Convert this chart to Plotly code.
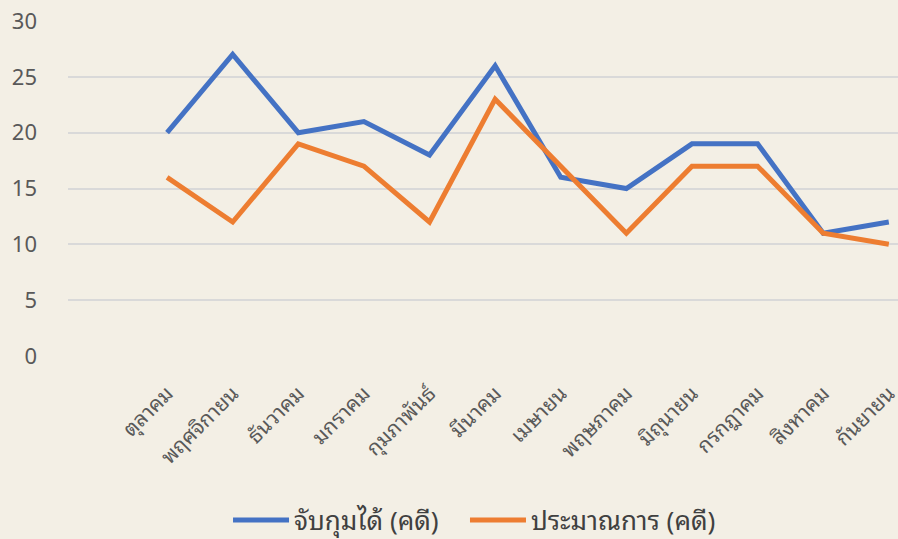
import plotly.graph_objects as go

months = ["ตุลาคม", "พฤศจิกายน", "ธันวาคม", "มกราคม", "กุมภาพันธ์", "มีนาคม",
          "เมษายน", "พฤษภาคม", "มิถุนายน", "กรกฎาคม", "สิงหาคม", "กันยายน"]
arrested = [20, 27, 20, 21, 18, 26, 16, 15, 19, 19, 11, 12]
estimated = [16, 12, 19, 17, 12, 23, 17, 11, 17, 17, 11, 10]
name_arrested = "จับกุมได้ (คดี)"
name_estimated = "ประมาณการ (คดี)"
y_ticks = [0, 5, 10, 15, 20, 25, 30]

font_family = "Noto Sans Thai Looped, Noto Sans, Open Sans, sans-serif"
bg = "#F3EFE5"

fig = go.Figure()
fig.add_trace(go.Scatter(x=months, y=arrested, mode="lines", name=name_arrested,
                         line=dict(color="#4472C4", width=5), legend="legend"))
fig.add_trace(go.Scatter(x=months, y=estimated, mode="lines", name=name_estimated,
                         line=dict(color="#ED7D31", width=5), legend="legend2"))

legend_common = dict(orientation="h", xanchor="left", y=-0.49, yanchor="middle",
                     font=dict(size=26, color="#404040"), itemwidth=56,
                     bgcolor="rgba(0,0,0,0)")

fig.update_layout(
    width=898, height=539,
    paper_bgcolor=bg, plot_bgcolor=bg,
    margin=dict(l=68, r=0, t=21, b=183, autoexpand=False),
    font=dict(family=font_family, color="#595959", size=18),
    showlegend=True,
    legend=dict(x=0.1928, **legend_common),
    legend2=dict(x=0.4783, **legend_common),
    xaxis=dict(type="category", range=[-1.51, 11.14], showgrid=False, zeroline=False,
               tickangle=-45, tickfont=dict(size=21, color="#595959"),
               ticks="", showline=False, ticklabelstandoff=20),
    yaxis=dict(range=[0, 30], tickvals=y_ticks, showgrid=True, gridcolor="#D9D9D9",
               gridwidth=2, zeroline=False, showline=False, ticks="",
               tickfont=dict(size=22, color="#595959"), ticklabelstandoff=30),
)

fig.write_html("out.html", config={"displayModeBar": False},
               post_script="document.body.style.margin='0';document.body.style.background='%s';" % bg)
